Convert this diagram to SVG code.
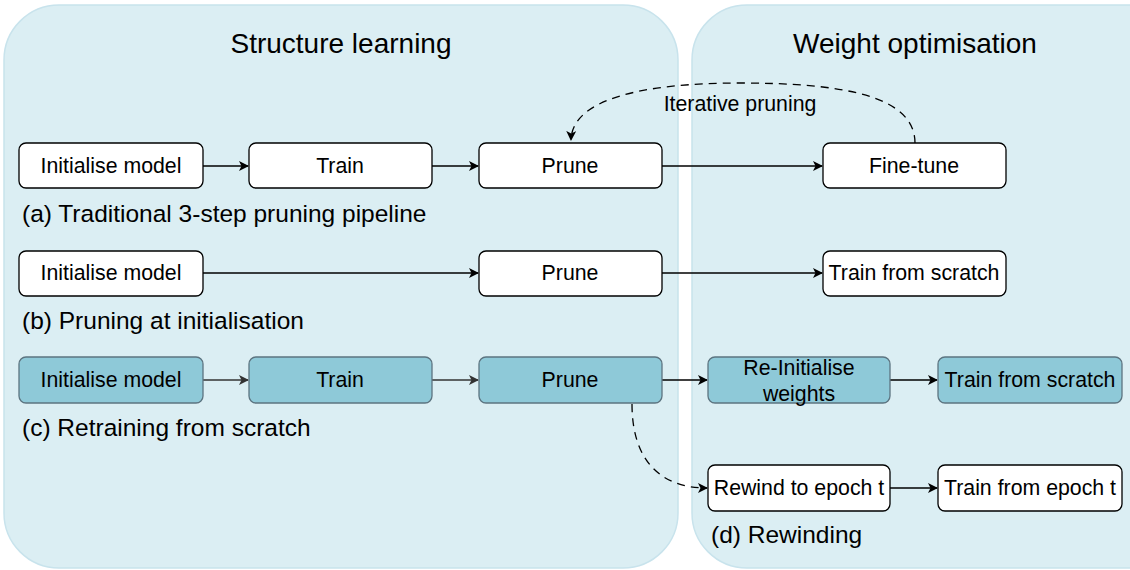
<svg xmlns="http://www.w3.org/2000/svg" width="1130" height="570" viewBox="0 0 1130 570">
<defs>
<style>
.panel{fill:#dbeef3;stroke:#c8e3ec;stroke-width:1.5}
.title{font-family:"Liberation Sans",Arial,sans-serif;font-size:28px;fill:#000;text-anchor:middle}
.box{fill:#fff;stroke:#000;stroke-width:1.3}
.boxc{fill:#8ec9d8;stroke:#5c7480;stroke-width:1.3}
.lbl{font-family:"Liberation Sans",Arial,sans-serif;font-size:21.3px;fill:#000;text-anchor:middle;dominant-baseline:central}
.cap{font-family:"Liberation Sans",Arial,sans-serif;font-size:24.5px;fill:#000}
.con{fill:none;stroke:#000;stroke-width:1.3}
.cong{fill:none;stroke:#333;stroke-width:1.3}
.dash{fill:none;stroke:#000;stroke-width:1.3;stroke-dasharray:8 6}
</style>
<marker id="ah" viewBox="0 0 10 10" refX="9" refY="5" markerWidth="10" markerHeight="10" markerUnits="userSpaceOnUse" orient="auto"><path d="M0,0 L10,5 L0,10 L2.5,5 Z" fill="#000"/></marker>
<marker id="ahg" viewBox="0 0 10 10" refX="9" refY="5" markerWidth="10" markerHeight="10" markerUnits="userSpaceOnUse" orient="auto"><path d="M0,0 L10,5 L0,10 L2.5,5 Z" fill="#333"/></marker>
</defs>
<g id="panel-structure"><rect class="panel" x="4" y="5" width="674" height="563" rx="55"/><text class="title" x="341" y="53">Structure learning</text></g>
<g id="panel-weight"><rect class="panel" x="692" y="5" width="500" height="563" rx="55"/><text class="title" x="915" y="53">Weight optimisation</text></g>
<g id="connectors">
<path class="con" d="M203,166 L248,166" marker-end="url(#ah)"/>
<path class="con" d="M432,166 L478,166" marker-end="url(#ah)"/>
<path class="con" d="M662,166 L822,166" marker-end="url(#ah)"/>
<path class="dash" d="M915,143 C915,95 840,83 740,83 C640,83 572,100 571,140" marker-end="url(#ah)"/>
<path class="con" d="M203,273 L478,273" marker-end="url(#ah)"/>
<path class="con" d="M662,273 L822,273" marker-end="url(#ah)"/>
<path class="cong" d="M203,380 L248,380" marker-end="url(#ahg)"/>
<path class="cong" d="M432,380 L478,380" marker-end="url(#ahg)"/>
<path class="con" d="M662,380 L707,380" marker-end="url(#ah)"/>
<path class="con" d="M890,380 L937,380" marker-end="url(#ah)"/>
<path class="dash" d="M632,404 C632,460 660,488 707,488" marker-end="url(#ah)"/>
<path class="con" d="M890,488 L937,488" marker-end="url(#ah)"/>
</g>
<g id="a-init"><rect class="box" x="19" y="143" width="184" height="45" rx="7"/><text class="lbl" x="111" y="166">Initialise model</text></g>
<g id="a-train"><rect class="box" x="249" y="143" width="183" height="45" rx="7"/><text class="lbl" x="340" y="166">Train</text></g>
<g id="a-prune"><rect class="box" x="479" y="143" width="183" height="45" rx="7"/><text class="lbl" x="570" y="166">Prune</text></g>
<g id="a-finetune"><rect class="box" x="823" y="143" width="183" height="45" rx="7"/><text class="lbl" x="914" y="166">Fine-tune</text></g>
<g id="iter-label"><text class="lbl" x="740" y="104">Iterative pruning</text></g>
<text class="cap" x="22" y="222">(a) Traditional 3-step pruning pipeline</text>
<g id="b-init"><rect class="box" x="19" y="251" width="184" height="45" rx="7"/><text class="lbl" x="111" y="273">Initialise model</text></g>
<g id="b-prune"><rect class="box" x="479" y="251" width="183" height="45" rx="7"/><text class="lbl" x="570" y="273">Prune</text></g>
<g id="b-train"><rect class="box" x="823" y="251" width="183" height="45" rx="7"/><text class="lbl" x="914" y="273">Train from scratch</text></g>
<text class="cap" x="22" y="329">(b) Pruning at initialisation</text>
<g id="c-init"><rect class="boxc" x="19" y="357" width="184" height="46" rx="7"/><text class="lbl" x="111" y="380">Initialise model</text></g>
<g id="c-train"><rect class="boxc" x="249" y="357" width="183" height="46" rx="7"/><text class="lbl" x="340" y="380">Train</text></g>
<g id="c-prune"><rect class="boxc" x="479" y="357" width="183" height="46" rx="7"/><text class="lbl" x="570" y="380">Prune</text></g>
<g id="c-reinit"><rect class="boxc" x="708" y="357" width="182" height="46" rx="7"/><text class="lbl" x="799" y="368">Re-Initialise</text><text class="lbl" x="799" y="394">weights</text></g>
<g id="c-train2"><rect class="boxc" x="938" y="357" width="184" height="46" rx="7"/><text class="lbl" x="1030" y="380">Train from scratch</text></g>
<text class="cap" x="22" y="436">(c) Retraining from scratch</text>
<g id="d-rewind"><rect class="box" x="708" y="465" width="182" height="46" rx="7"/><text class="lbl" x="799" y="488">Rewind to epoch t</text></g>
<g id="d-train"><rect class="box" x="938" y="465" width="184" height="46" rx="7"/><text class="lbl" x="1030" y="488">Train from epoch t</text></g>
<text class="cap" x="711" y="543">(d) Rewinding</text>
</svg>
